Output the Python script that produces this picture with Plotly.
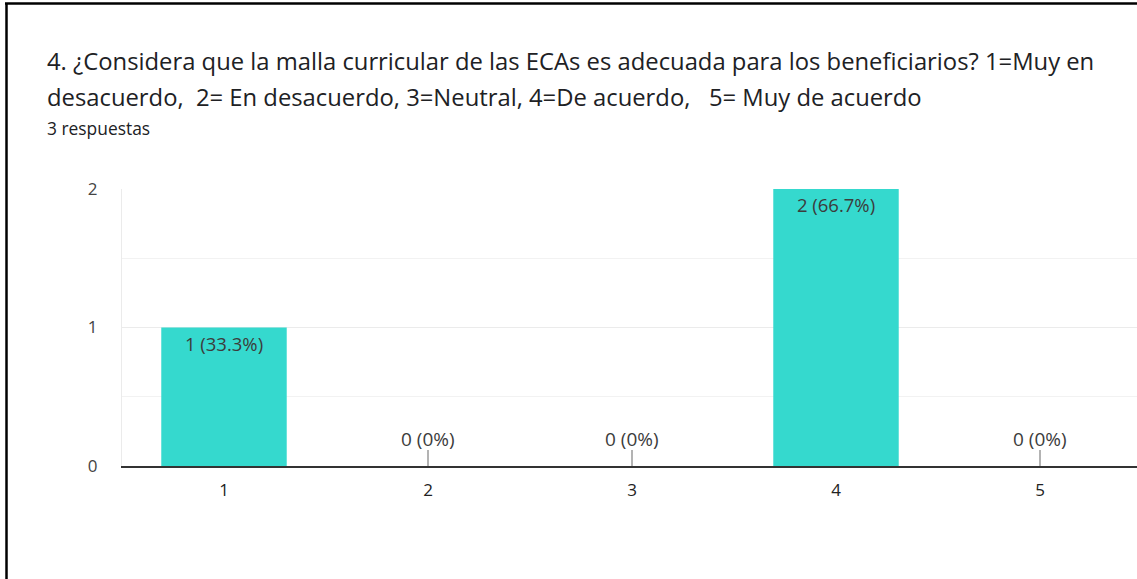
import plotly.graph_objects as go

categories = ["1", "2", "3", "4", "5"]
counts = [1, 0, 0, 2, 0]
total = 3
labels = [f"{c} ({round(c / total * 100, 1):g}%)" for c in counts]

title_line1 = "4. ¿Considera que la malla curricular de las ECAs es adecuada para los beneficiarios? 1=Muy en"
title_line2 = "desacuerdo,  2= En desacuerdo, 3=Neutral, 4=De acuerdo,   5= Muy de acuerdo"
subtitle = "3 respuestas"

W, H = 1137, 579
ml, mr, mt, mb = 122, 0, 189, 113
pw = W - ml - mr
ph = H - mt - mb

FONT = "Open Sans"
BAR = "#35D9CE"
TXT = "#3c3c3c"

fig = go.Figure()
fig.add_trace(go.Bar(
    x=categories,
    y=counts,
    text=[l if c > 0 else "" for c, l in zip(counts, labels)],
    textposition="inside",
    insidetextanchor="end",
    textangle=0,
    textfont=dict(family=FONT, size=18.5, color=TXT),
    marker=dict(color=BAR, line=dict(width=0)),
    width=0.615,
    hoverinfo="skip",
))

annotations = []
shapes = []
for i, (c, l) in enumerate(zip(counts, labels)):
    if c == 0:
        annotations.append(dict(
            x=i, y=0, xref="x", yref="y", text=l, showarrow=False,
            yanchor="middle", yshift=27,
            font=dict(family=FONT, size=19, color=TXT),
        ))
        shapes.append(dict(
            type="line", xref="x", yref="y", x0=i, x1=i,
            ysizemode="pixel", yanchor=0, y0=0, y1=16,
            line=dict(color="#9a9a9a", width=1.5),
        ))

def px_x(p):
    return (p - ml) / pw

def px_y(p):
    return (H - mb - p) / ph

annotations += [
    dict(text=title_line1, x=px_x(45), y=px_y(61), xref="paper", yref="paper",
         xanchor="left", yanchor="middle", showarrow=False,
         font=dict(family=FONT, size=23.8, color="#202124")),
    dict(text=title_line2, x=px_x(45), y=px_y(97), xref="paper", yref="paper",
         xanchor="left", yanchor="middle", showarrow=False,
         font=dict(family=FONT, size=23.8, color="#202124")),
    dict(text=subtitle, x=px_x(45), y=px_y(128), xref="paper", yref="paper",
         xanchor="left", yanchor="middle", showarrow=False,
         font=dict(family=FONT, size=17.4, color="#202124")),
]

shapes += [
    dict(type="line", xref="paper", yref="paper", x0=px_x(6.5), x1=px_x(6.5),
         y0=px_y(3), y1=px_y(H + 2), line=dict(color="black", width=2.5)),
    dict(type="line", xref="paper", yref="paper", x0=px_x(5), x1=px_x(W + 2),
         y0=px_y(3.5), y1=px_y(3.5), line=dict(color="black", width=2.5)),
]

fig.update_layout(
    width=W, height=H,
    margin=dict(l=ml, r=mr, t=mt, b=mb, pad=0),
    paper_bgcolor="white", plot_bgcolor="white",
    showlegend=False,
    annotations=annotations,
    shapes=shapes,
    xaxis=dict(
        type="category",
        range=[-0.5, -0.5 + pw / 204],
        showgrid=False,
        showline=True, linecolor="#333333", linewidth=2,
        ticks="", ticklabelstandoff=8,
        tickfont=dict(family=FONT, size=17, color="#222222"),
        fixedrange=True,
    ),
    yaxis=dict(
        range=[0, 2],
        tickvals=[0, 1, 2],
        ticktext=["0", "1", "2"],
        showgrid=True, gridcolor="#ebebeb", gridwidth=1,
        zeroline=False,
        showline=True, linecolor="#ebebeb", linewidth=1,
        ticks="", ticklabelstandoff=20,
        tickfont=dict(family=FONT, size=17, color="#444444"),
        minor=dict(dtick=0.5, showgrid=True, gridcolor="#f2f2f2", gridwidth=1),
        fixedrange=True,
    ),
)

fig.write_html(
    "out.html",
    config={"displayModeBar": False},
    post_script="document.body.style.margin='0px';document.body.style.overflow='hidden';",
)
